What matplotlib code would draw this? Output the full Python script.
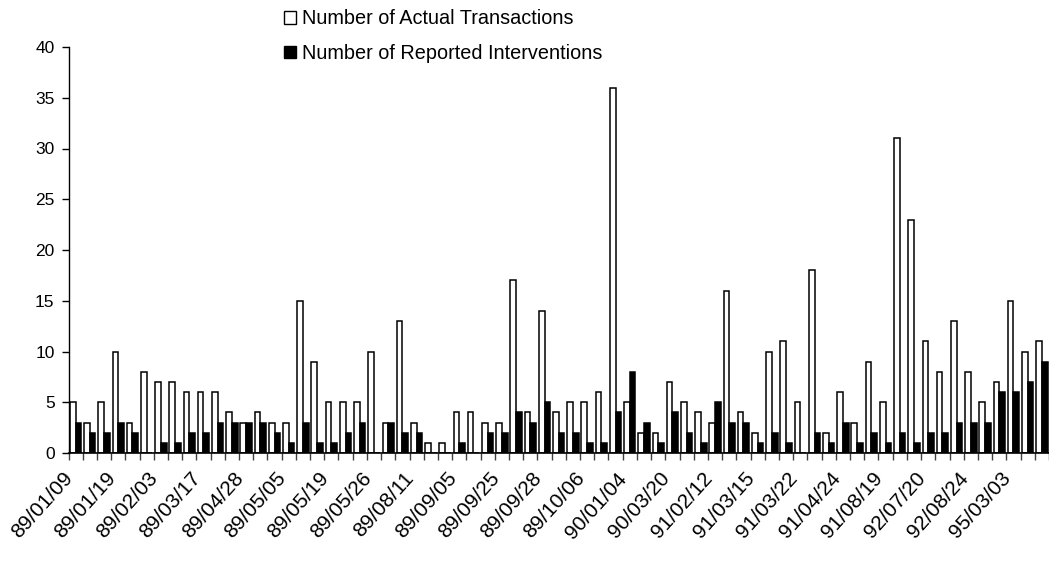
import matplotlib
matplotlib.use("Agg")
import matplotlib.pyplot as plt
import matplotlib.transforms as mtransforms
from matplotlib.patches import Patch
import numpy as np

plt.rcParams['font.family'] = ['Liberation Sans', 'DejaVu Sans']

actual = [5, 3, 5, 10, 3, 8, 7, 7, 6, 6, 6, 4, 3, 4, 3, 3, 15, 9, 5, 5,
          5, 10, 3, 13, 3, 1, 1, 4, 4, 3, 3, 17, 4, 14, 4, 5, 5, 6, 36, 5,
          2, 2, 7, 5, 4, 3, 16, 4, 2, 10, 11, 5, 18, 2, 6, 3, 9, 5, 31, 23,
          11, 8, 13, 8, 5, 7, 15, 10, 11]
reported = [3, 2, 2, 3, 2, 0, 1, 1, 2, 2, 3, 3, 3, 3, 2, 1, 3, 1, 1, 2,
            3, 0, 3, 2, 2, 0, 0, 1, 0, 2, 2, 4, 3, 5, 2, 2, 1, 1, 4, 8,
            3, 1, 4, 2, 1, 5, 3, 3, 1, 2, 1, 0, 2, 1, 3, 1, 2, 1, 2, 1,
            2, 2, 3, 3, 3, 6, 6, 7, 9]
tick_labels = ["89/01/09", "89/01/19", "89/02/03", "89/03/17", "89/04/28",
               "89/05/05", "89/05/19", "89/05/26", "89/08/11", "89/09/05",
               "89/09/25", "89/09/28", "89/10/06", "90/01/04", "90/03/20",
               "91/02/12", "91/03/15", "91/03/22", "91/04/24", "91/08/19",
               "92/07/20", "92/08/24", "95/03/03"]
label_step = 3
series_names = ["Number of Actual Transactions", "Number of Reported Interventions"]

n = len(actual)
x = np.arange(n)
w = 0.4

fig = plt.figure(figsize=(10.49, 5.69), dpi=100)
ax = fig.add_axes([68.5 / 1049, 1 - 453 / 569, 1 - 68.5 / 1049, (453 - 47) / 569])

ax.bar(x - w / 2, actual, width=w, color='white', edgecolor='black', linewidth=1.1)
ax.bar(x + w / 2, reported, width=w, color='black', edgecolor='black', linewidth=1.1)

ax.set_xlim(-0.5, n - 0.5)
ax.set_ylim(0, 40)
ax.set_yticks(np.arange(0, 41, 5))
ax.tick_params(axis='y', direction='out', length=5, width=1, labelsize=12.5, pad=5)

ax.set_xticks(x[::label_step])
ax.set_xticklabels(tick_labels, rotation=48, ha='right', va='center',
                   rotation_mode='anchor', fontsize=15)
ax.tick_params(axis='x', which='major', length=0, pad=16)
offset = mtransforms.ScaledTranslation(-6 / 100, 0, fig.dpi_scale_trans)
for lbl in ax.get_xticklabels():
    lbl.set_transform(lbl.get_transform() + offset)
ax.set_xticks(np.arange(-0.5, n, 1), minor=True)
ax.tick_params(axis='x', which='minor', direction='out', length=5, width=1, color='#404040')

for s in ['top', 'right']:
    ax.spines[s].set_visible(False)
ax.spines['left'].set_linewidth(1)
ax.spines['bottom'].set_linewidth(1.2)

handles = [Patch(facecolor='white', edgecolor='black', linewidth=1.0),
           Patch(facecolor='black', edgecolor='black', linewidth=1.0)]
fig.legend(handles, series_names, loc='upper left', bbox_to_anchor=(0.2572, 1.008),
           frameon=False, fontsize=14.3, handlelength=0.6, handleheight=0.6,
           handletextpad=0.3, labelspacing=0.78, borderaxespad=0.3)

fig.savefig("out.png", dpi=100)
